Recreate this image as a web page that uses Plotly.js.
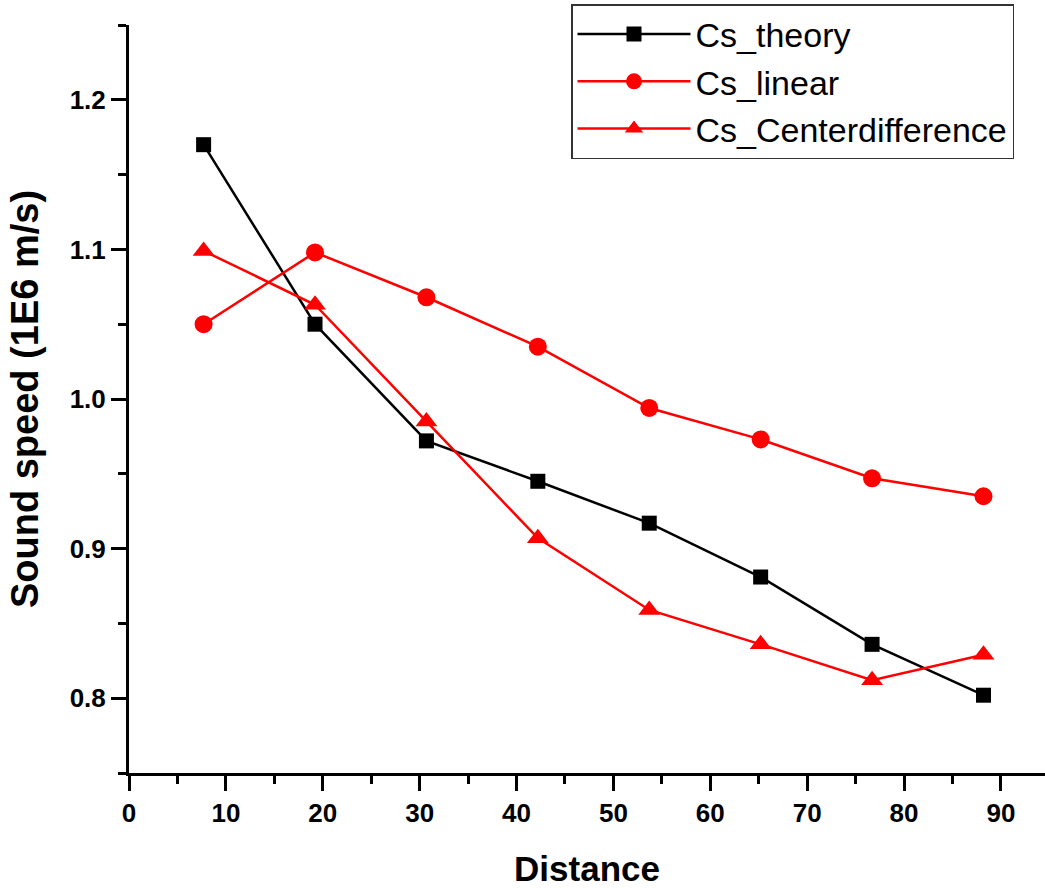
<!DOCTYPE html>
<html>
<head>
<meta charset="utf-8">
<script src="https://cdn.plot.ly/plotly-3.0.1.min.js"></script>
<style>html,body{margin:0;padding:0;background:#fff;}#chart{width:1045px;height:888px;}</style>
</head>
<body>
<div id="chart"></div>
<script>
const distance = [7.7, 19.2, 30.7, 42.2, 53.7, 65.2, 76.7, 88.2];
const csTheory = [1.170, 1.050, 0.972, 0.945, 0.917, 0.881, 0.836, 0.802];
const csLinear = [1.050, 1.098, 1.068, 1.035, 0.994, 0.973, 0.947, 0.935];
const csCenter = [1.099, 1.063, 0.985, 0.907, 0.859, 0.836, 0.812, 0.829];
const seriesNames = ['Cs_theory', 'Cs_linear', 'Cs_Centerdifference'];

const traces = [
  {x: distance, y: csTheory, name: seriesNames[0], mode: 'lines+markers',
   line: {color: '#000000', width: 2.5}, marker: {symbol: 'square', size: 15, color: '#000000'}},
  {x: distance, y: csLinear, name: seriesNames[1], mode: 'lines+markers',
   line: {color: '#ff0000', width: 2.5}, marker: {symbol: 'circle', size: 18, color: '#ff0000'}},
  {x: distance, y: csCenter, name: seriesNames[2], mode: 'lines+markers',
   line: {color: '#ff0000', width: 2.5}, marker: {symbol: 'triangle-up', size: 19, color: '#ff0000'}}
];

const FF = 'Liberation Sans, Arial, sans-serif';
const tickFont = {family: FF, size: 26, color: '#000', weight: 'bold'};
const layout = {
  width: 1045, height: 888,
  margin: {l: 129, r: 0, t: 25, b: 115, autoexpand: false},
  paper_bgcolor: '#fff', plot_bgcolor: '#fff',
  font: {family: FF, color: '#000'},
  xaxis: {
    range: [0, 94.55], showgrid: false, zeroline: false,
    showline: true, linecolor: '#000', linewidth: 3,
    ticks: 'outside', ticklen: 15, tickwidth: 3, tickcolor: '#000',
    dtick: 10, tick0: 0, tickfont: tickFont,
    minor: {ticks: 'outside', ticklen: 8, tickwidth: 3, tickcolor: '#000', dtick: 5, showgrid: false},
    title: {text: '<b>Distance</b>', font: {size: 35, family: FF, color: '#000'}, standoff: 30}
  },
  yaxis: {
    range: [0.75, 1.25], showgrid: false, zeroline: false,
    showline: true, linecolor: '#000', linewidth: 3,
    ticks: 'outside', ticklen: 15, tickwidth: 3, tickcolor: '#000',
    dtick: 0.1, tick0: 0.8, tickformat: '.1f', tickfont: tickFont,
    minor: {ticks: 'outside', ticklen: 8, tickwidth: 3, tickcolor: '#000', dtick: 0.05, showgrid: false},
    title: {text: '<b>Sound speed (1E6 m/s)</b>', font: {size: 38, family: FF, color: '#000'}, standoff: 20}
  },
  legend: {
    x: (571 - 129) / 916, y: 1 + (25 - 4) / 748, xref: 'paper', yref: 'paper', xanchor: 'left', yanchor: 'top',
    bgcolor: '#fff', bordercolor: '#333', borderwidth: 1.5,
    font: {size: 34, family: FF, color: '#000'},
    itemwidth: 113, tracegroupgap: 0
  },
  showlegend: true
};

Plotly.newPlot('chart', traces, layout, {displayModeBar: false, staticPlot: true});
</script>
</body>
</html>
